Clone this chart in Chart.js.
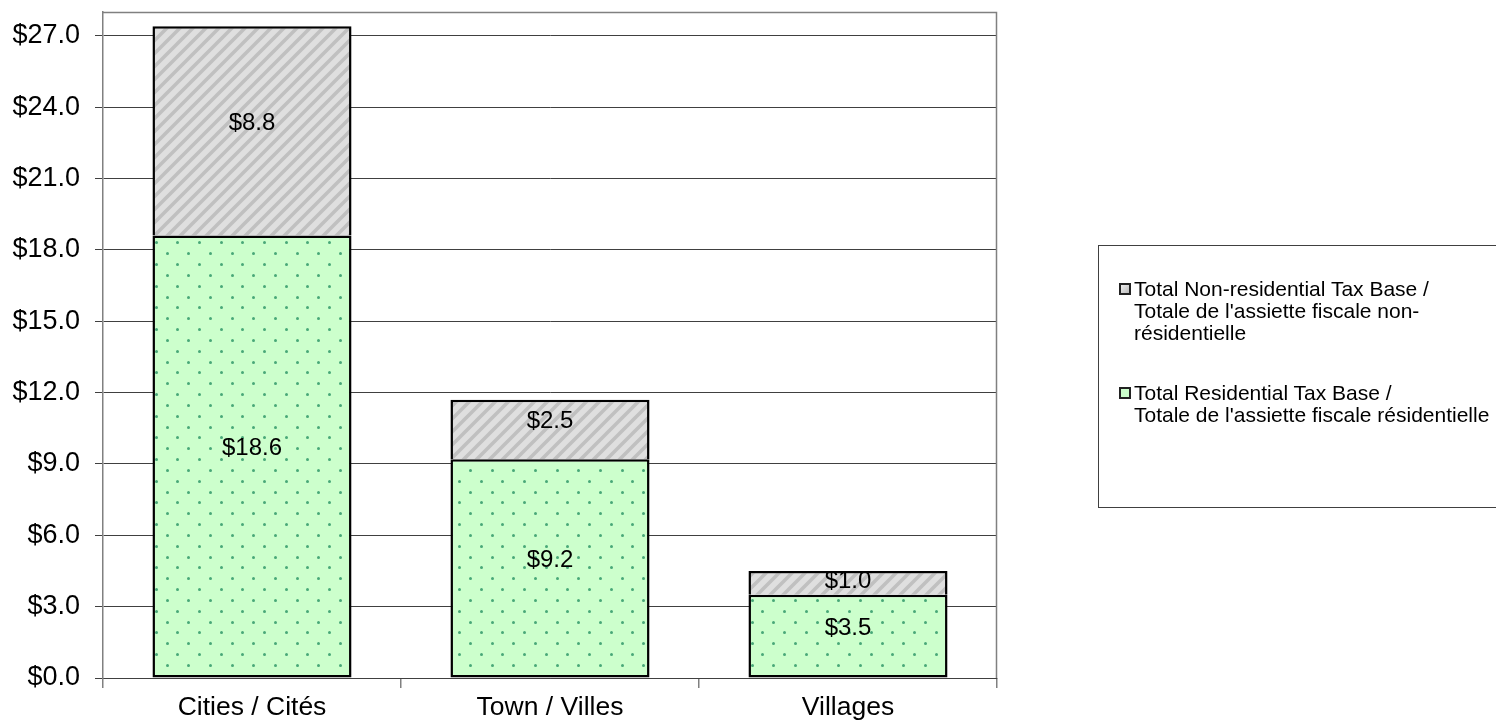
<!DOCTYPE html>
<html>
<head>
<meta charset="utf-8">
<script src="https://cdn.jsdelivr.net/npm/chart.js@4/dist/chart.umd.min.js"></script>
<style>
  html, body { margin: 0; padding: 0; background: #fff; }
  #wrap { position: relative; width: 1496px; height: 726px; overflow: hidden; }
  canvas { position: absolute; left: 0; top: 0; }
  #legend {
    position: absolute; left: 1098px; top: 245px; width: 420px; height: 263px;
    border: 1px solid #404040; box-sizing: border-box;
    font-family: 'Liberation Sans', Arial, sans-serif; font-size: 21px; color: #000;
  }
  .item { position: absolute; left: 35px; line-height: 22px; }
  .mark { position: absolute; left: -15px; top: 5px; width: 8px; height: 8px; border: 2px solid #222; }
</style>
</head>
<body>
<div id="wrap">
  <canvas id="c" width="1496" height="726"></canvas>
  <div id="legend">
    <div class="item" style="top:32px;"><span class="mark" style="background:linear-gradient(135deg,#eee,#bbb);"></span>Total Non-residential Tax Base /<br>Totale de l'assiette fiscale non-<br>résidentielle</div>
    <div class="item" style="top:136px;"><span class="mark" style="background:#ccffcc;"></span>Total Residential Tax Base /<br>Totale de l'assiette fiscale résidentielle</div>
  </div>
</div>
<script>
const categories = ['Cities / Cités', 'Town / Villes', 'Villages'];
const residential = [18.6, 9.2, 3.5];
const nonResidential = [8.8, 2.5, 1.0];
const seriesNames = [
  "Total Residential Tax Base / Totale de l'assiette fiscale résidentielle",
  "Total Non-residential Tax Base / Totale de l'assiette fiscale non-résidentielle"
];
const yTicks = [0, 3, 6, 9, 12, 15, 18, 21, 24, 27];
const yMax = 28;

const FONT = "'Liberation Sans', Arial, sans-serif";

function hatchPattern() {
  const s = 13;
  const c = document.createElement('canvas');
  c.width = s; c.height = s;
  const g = c.getContext('2d');
  g.fillStyle = '#dfdfdf';
  g.fillRect(0, 0, s, s);
  g.strokeStyle = '#c0c0c0';
  g.lineWidth = 3.6;
  g.beginPath();
  g.moveTo(-3, s + 3); g.lineTo(s + 3, -3);
  g.moveTo(-3, 3); g.lineTo(3, -3);
  g.moveTo(s - 3, s + 3); g.lineTo(s + 3, s - 3);
  g.stroke();
  const ctx = document.getElementById('c').getContext('2d');
  return ctx.createPattern(c, 'repeat');
}

function dotPattern() {
  const s = 65, step = s / 3;
  const c = document.createElement('canvas');
  c.width = s; c.height = s;
  const g = c.getContext('2d');
  g.fillStyle = '#ccffcc';
  g.fillRect(0, 0, s, s);
  g.fillStyle = '#48a878';
  const dot = (x, y) => { g.beginPath(); g.arc(x, y, 1.5, 0, Math.PI * 2); g.fill(); };
  for (let i = 0; i < 3; i++) {
    for (let j = 0; j < 3; j++) {
      dot(Math.round(i * step + 4) + 0.5, Math.round(j * step + 4) + 0.5);
      dot(Math.round(i * step + step / 2 + 4) + 0.5, Math.round(j * step + step / 2 + 4) + 0.5);
    }
  }
  const ctx = document.getElementById('c').getContext('2d');
  return ctx.createPattern(c, 'repeat');
}

const plotBorder = {
  id: 'plotBorder',
  beforeDatasetsDraw(chart) {
    const { ctx, chartArea: a } = chart;
    ctx.save();
    ctx.strokeStyle = '#808080';
    ctx.lineWidth = 1.5;
    ctx.beginPath();
    ctx.moveTo(a.left, a.top + 0.5);
    ctx.lineTo(a.right - 0.5, a.top + 0.5);
    ctx.lineTo(a.right - 0.5, a.bottom);
    ctx.stroke();
    ctx.restore();
  }
};

const barLabels = {
  id: 'barLabels',
  afterDatasetsDraw(chart) {
    const { ctx } = chart;
    ctx.save();
    ctx.font = '24px ' + FONT;
    ctx.fillStyle = '#000';
    ctx.textAlign = 'center';
    ctx.textBaseline = 'middle';
    chart.data.datasets.forEach((ds, di) => {
      const meta = chart.getDatasetMeta(di);
      meta.data.forEach((el, i) => {
        const h = Math.abs(el.base - el.y);
        const off = Math.min(8, Math.max(0, (h - 20) / 2));
        const y = (el.y + el.base) / 2 - off;
        ctx.fillText('$' + ds.data[i].toFixed(1), el.x, y);
      });
    });
    ctx.restore();
  }
};

new Chart(document.getElementById('c'), {
  type: 'bar',
  data: {
    labels: categories,
    datasets: [
      {
        label: seriesNames[0],
        data: residential,
        backgroundColor: dotPattern(),
        borderColor: '#000',
        borderWidth: 2.5,
        borderSkipped: false,
        categoryPercentage: 1,
        barPercentage: 0.668
      },
      {
        label: seriesNames[1],
        data: nonResidential,
        backgroundColor: hatchPattern(),
        borderColor: '#000',
        borderWidth: 2.5,
        borderSkipped: 'bottom',
        categoryPercentage: 1,
        barPercentage: 0.668
      }
    ]
  },
  options: {
    responsive: false,
    animation: false,
    devicePixelRatio: 1,
    layout: { padding: { top: 12, right: 499, left: 0, bottom: 0 } },
    plugins: { legend: { display: false }, tooltip: { enabled: false } },
    scales: {
      x: {
        stacked: true,
        offset: true,
        grid: { offset: true, drawOnChartArea: false, color: '#808080', tickLength: 10, lineWidth: 1.5 },
        border: { color: '#404040', width: 1 },
        ticks: { color: '#000', font: { size: 26.5, family: FONT }, padding: 4 },
        afterFit(scale) { scale.height = 48; scale.paddingLeft = 0; scale.paddingRight = 0; }
      },
      y: {
        stacked: true,
        min: 0,
        max: yMax,
        afterBuildTicks(scale) { scale.ticks = yTicks.map(v => ({ value: v })); },
        grid: { color: '#404040', tickColor: '#404040', tickLength: 8, lineWidth: 1 },
        border: { color: '#808080', width: 1.5 },
        ticks: {
          color: '#000',
          font: { size: 27, family: FONT },
          padding: 15,
          callback: v => '$' + Number(v).toFixed(1)
        },
        afterFit(scale) { scale.width = 103; scale.paddingTop = 0; scale.paddingBottom = 0; }
      }
    }
  },
  plugins: [plotBorder, barLabels]
});
</script>
</body>
</html>
